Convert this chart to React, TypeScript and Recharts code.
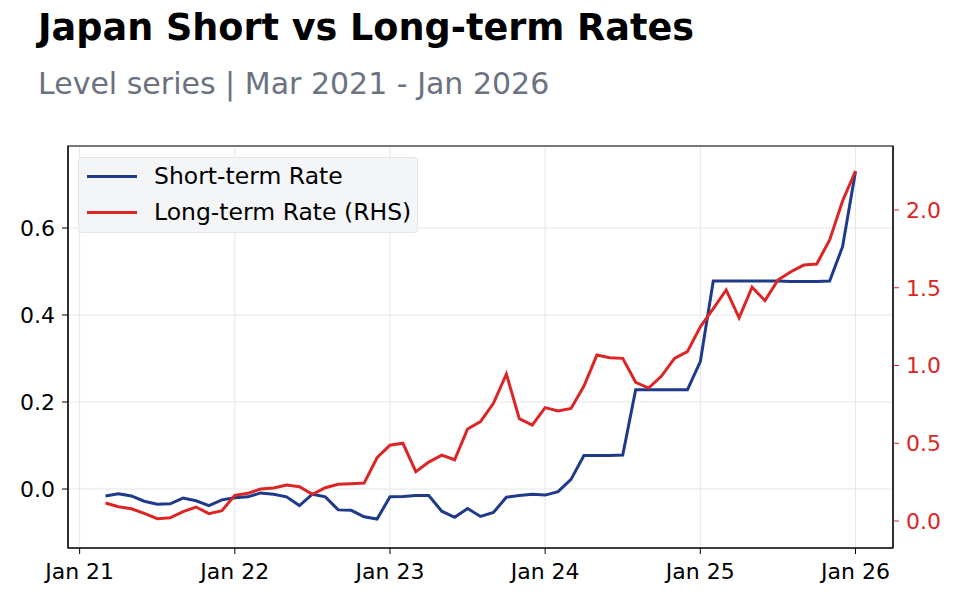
import {
  LineChart,
  Line,
  XAxis,
  YAxis,
  CartesianGrid,
  ReferenceArea,
} from "recharts";

const FONT = "'DejaVu Sans', sans-serif";
const BLUE = "#1e3a8a";
const RED = "#dc2626";
const GRID = "#e6e6e6";

// months from Mar 2021 to Jan 2026
const MONTHS = [
  "Mar 21", "Apr 21", "May 21", "Jun 21", "Jul 21", "Aug 21", "Sep 21", "Oct 21", "Nov 21", "Dec 21",
  "Jan 22", "Feb 22", "Mar 22", "Apr 22", "May 22", "Jun 22", "Jul 22", "Aug 22", "Sep 22", "Oct 22", "Nov 22", "Dec 22",
  "Jan 23", "Feb 23", "Mar 23", "Apr 23", "May 23", "Jun 23", "Jul 23", "Aug 23", "Sep 23", "Oct 23", "Nov 23", "Dec 23",
  "Jan 24", "Feb 24", "Mar 24", "Apr 24", "May 24", "Jun 24", "Jul 24", "Aug 24", "Sep 24", "Oct 24", "Nov 24", "Dec 24",
  "Jan 25", "Feb 25", "Mar 25", "Apr 25", "May 25", "Jun 25", "Jul 25", "Aug 25", "Sep 25", "Oct 25", "Nov 25", "Dec 25",
  "Jan 26",
];

const SHORT_RATE = [
  -0.016, -0.011, -0.016, -0.028, -0.035, -0.034, -0.021, -0.027, -0.038, -0.025,
  -0.02, -0.018, -0.009, -0.012, -0.018, -0.038, -0.012, -0.018, -0.048, -0.049, -0.064, -0.069,
  -0.018, -0.017, -0.015, -0.015, -0.051, -0.065, -0.045, -0.063, -0.054, -0.019, -0.015, -0.012,
  -0.014, -0.006, 0.022, 0.077, 0.077, 0.077, 0.078, 0.228, 0.228, 0.228, 0.228, 0.228,
  0.293, 0.478, 0.478, 0.478, 0.478, 0.478, 0.478, 0.477, 0.477, 0.477, 0.478, 0.557,
  0.73,
];

const LONG_RATE = [
  0.116, 0.092, 0.079, 0.049, 0.015, 0.021, 0.06, 0.09, 0.047, 0.066,
  0.165, 0.178, 0.206, 0.212, 0.231, 0.221, 0.172, 0.214, 0.236, 0.24, 0.244, 0.407,
  0.487, 0.5, 0.317, 0.379, 0.424, 0.394, 0.592, 0.639, 0.757, 0.945, 0.658, 0.617,
  0.729, 0.707, 0.724, 0.868, 1.067, 1.05, 1.046, 0.892, 0.855, 0.932, 1.046, 1.089,
  1.249, 1.365, 1.486, 1.307, 1.503, 1.417, 1.55, 1.603, 1.646, 1.653, 1.807, 2.058,
  2.251,
];

const X_TICKS = [0, 12, 24, 36, 48, 60];
const X_TICK_LABELS = ["Jan 21", "Jan 22", "Jan 23", "Jan 24", "Jan 25", "Jan 26"];
const LEFT_TICKS = [0, 0.2, 0.4, 0.6];
const RIGHT_TICKS = [0, 0.5, 1, 1.5, 2];

// month index counted from Jan 2021 (first point is Mar 2021)
const data = MONTHS.map((m, i) => ({
  month: m,
  t: i + 2,
  short: SHORT_RATE[i],
  long: LONG_RATE[i],
}));

const X_DOMAIN: [number, number] = [-0.9, 62.9];
const LEFT_DOMAIN: [number, number] = [-0.1356, 0.7885];
const RIGHT_DOMAIN: [number, number] = [-0.1736, 2.4116];

const tickStyle = { fontFamily: FONT, fontSize: 22, fill: "#000" };

function LegendBox() {
  const items = [
    { label: "Short-term Rate", color: BLUE },
    { label: "Long-term Rate (RHS)", color: RED },
  ];
  return (
    <div
      style={{
        position: "absolute",
        left: 78,
        top: 157,
        width: 340,
        height: 76,
        boxSizing: "border-box",
        background: "rgba(243,244,246,0.92)",
        border: "1px solid #e3e5e8",
        borderRadius: 4,
        fontFamily: FONT,
        fontSize: 23.5,
      }}
    >
      {items.map((it, i) => (
        <div
          key={it.label}
          style={{
            position: "absolute",
            left: 8,
            top: 18 + i * 36 - 15,
            height: 30,
            display: "flex",
            alignItems: "center",
            whiteSpace: "nowrap",
          }}
        >
          <span style={{ display: "inline-block", width: 50, height: 3, background: it.color }} />
          <span style={{ marginLeft: 17, color: "#000", lineHeight: "30px" }}>{it.label}</span>
        </div>
      ))}
    </div>
  );
}

export default function App() {
  return (
    <div style={{ position: "fixed", left: 0, top: 0, width: 960, height: 600, background: "#fff" }}>
      <svg width={960} height={600} style={{ position: "absolute", left: 0, top: 0 }}>
        <text x={38} y={40} fontFamily={FONT} fontWeight="bold" fontSize={36.6} fill="#000">
          Japan Short vs Long-term Rates
        </text>
        <text x={38} y={93.5} fontFamily={FONT} fontSize={30} fill="#6b7280">
          Level series | Mar 2021 - Jan 2026
        </text>
      </svg>
      <div style={{ position: "absolute", left: 0, top: 0 }}>
        <LineChart
          width={960}
          height={600}
          data={data}
          margin={{ top: 146, right: 7, bottom: 12, left: 8 }}
        >
          <CartesianGrid stroke={GRID} strokeWidth={1} yAxisId="left" />
          <XAxis
            dataKey="t"
            type="number"
            domain={X_DOMAIN}
            ticks={X_TICKS}
            tickFormatter={(v) => X_TICK_LABELS[X_TICKS.indexOf(v)] ?? ""}
            allowDataOverflow
            height={40}
            tick={tickStyle}
            tickSize={6}
            tickMargin={9}
            stroke="#000"
          />
          <YAxis
            yAxisId="left"
            orientation="left"
            domain={LEFT_DOMAIN}
            ticks={LEFT_TICKS}
            allowDataOverflow
            tickFormatter={(v) => Number(v).toFixed(1)}
            width={60}
            tick={tickStyle}
            tickSize={6}
            tickMargin={7}
            stroke="#000"
          />
          <YAxis
            yAxisId="right"
            orientation="right"
            domain={RIGHT_DOMAIN}
            ticks={RIGHT_TICKS}
            allowDataOverflow
            tickFormatter={(v) => Number(v).toFixed(1)}
            width={60}
            tick={{ ...tickStyle, fill: RED }}
            tickLine={{ stroke: RED }}
            axisLine={{ stroke: "#000" }}
            tickSize={6}
            tickMargin={7}
          />
          <ReferenceArea
            yAxisId="left"
            x1={X_DOMAIN[0]}
            x2={X_DOMAIN[1]}
            y1={LEFT_DOMAIN[0]}
            y2={LEFT_DOMAIN[1]}
            fill="none"
            stroke="#000"
            strokeWidth={1.2}
            ifOverflow="extendDomain"
          />
          <Line
            yAxisId="left"
            dataKey="short"
            type="linear"
            stroke={BLUE}
            strokeWidth={3}
            dot={false}
            activeDot={false}
            isAnimationActive={false}
          />
          <Line
            yAxisId="right"
            dataKey="long"
            type="linear"
            stroke={RED}
            strokeWidth={3}
            dot={false}
            activeDot={false}
            isAnimationActive={false}
          />
        </LineChart>
      </div>
      <LegendBox />
    </div>
  );
}
